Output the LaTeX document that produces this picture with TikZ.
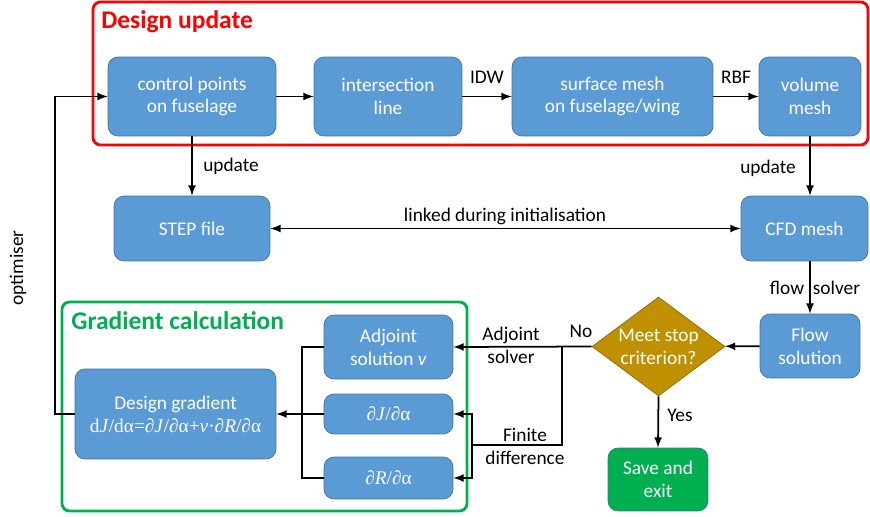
\documentclass[tikz,border=0pt]{standalone}
\usepackage{fontspec}
\setmainfont{Carlito}
\newfontfamily\serifmath{Liberation Serif}
\usetikzlibrary{shapes.geometric}

\definecolor{boxblue}{HTML}{5B9BD5}
\definecolor{boxedge}{HTML}{41719C}
\definecolor{gold}{HTML}{BF9000}
\definecolor{savegreen}{HTML}{00B050}

\tikzset{
  block/.style={rectangle, rounded corners=0.2cm, fill=boxblue, draw=boxedge, line width=0.4pt,
    text=white, align=center, inner sep=0pt, font=\fontsize{11}{13}\selectfont, minimum height=1.58cm},
  decision/.style={diamond, fill=gold, draw=gold!75!black, line width=0.4pt, inner sep=0pt},
  frame/.style={rounded corners=0.15cm, line width=1.6pt},
  titlefont/.style={font=\fontsize{14.5}{17}\selectfont\bfseries, inner sep=0pt},
  lbl/.style={font=\fontsize{11}{13}\selectfont, align=center},
  conn/.style={->, line width=1pt}
}

\begin{document}
\begin{tikzpicture}[x=0.02cm, y=-0.02cm, >=latex]
        \useasboundingbox (0,0) rectangle (870,517);
        % frames
        \draw[frame, red] (93,2) rectangle (868,145);
        \node[titlefont, red, anchor=base west] (dutitle) at (101,29) {Design update};
        \draw[frame, savegreen] (62,302) rectangle (467,511);
        \node[titlefont, savegreen, anchor=base west] (gctitle) at (71,330) {Gradient calculation};
        % boxes
        \node[block, minimum width=3.36cm] (ctrl) at (192,96.5) {control points\\on fuselage};
        \node[block, minimum width=2.96cm] (inter) at (388,96.5) {intersection\\line};
        \node[block, minimum width=4.02cm] (surf) at (612.5,96.5) {surface mesh\\on fuselage/wing};
        \node[block, minimum width=2.04cm] (vol) at (810,96.5) {volume\\mesh};
        \node[block, minimum width=3.12cm, minimum height=1.3cm] (step) at (192,228.5) {STEP file};
        \node[block, minimum width=2.54cm, minimum height=1.3cm] (cfd) at (804.5,228.5) {CFD mesh};
        \node[block, minimum width=2cm, minimum height=1.28cm] (flowsol) at (810,346) {Flow\\solution};
        \node[decision, minimum width=2.66cm, minimum height=1.98cm,
              label={[lbl, text=white]center:Meet stop\\criterion?}] (stop) at (658.5,346.5) {};
        \node[block, fill=savegreen, minimum width=2cm, minimum height=1.26cm] (save) at (658,479.5) {Save and\\exit};
        \node[block, minimum width=2.58cm, minimum height=1.28cm] (adj) at (388.5,347) {Adjoint\\solution \textit{v}};
        \node[block, minimum width=2.58cm, minimum height=0.8cm] (djda) at (388.5,414) {\serifmath ∂\textit{J}/∂α};
        \node[block, minimum width=2.58cm, minimum height=0.84cm] (drda) at (388.5,478) {\serifmath ∂\textit{R}/∂α};
        \node[block, minimum width=4.02cm, minimum height=1.8cm] (grad) at (175.5,414)
              {Design gradient\\{\serifmath d\textit{J}/dα=∂\textit{J}/∂α+\textit{v}·∂\textit{R}/∂α}};
        % connectors
        \draw[conn] (ctrl) -- (inter);
        \draw[conn] (inter) -- (surf);
        \draw[conn] (surf) -- (vol);
        \draw[conn] (ctrl.south) -- (step.north);
        \draw[conn] (vol.south) -- (vol.south |- cfd.north);
        \draw[conn, <->] (step) -- (cfd);
        \draw[conn] (flowsol.north |- cfd.south) -- (flowsol.north);
        \draw[conn] (flowsol) -- (stop);
        \draw[conn] (stop.south) -- (save.north);
        \draw[conn] (stop.west) -- (adj.east);
        \coordinate (split) at (562,347);
        \coordinate (fork) at (472,445);
        \draw[line width=1pt] (split) |- (fork);
        \draw[conn] (fork) |- (djda.east);
        \draw[conn] (fork) |- (drda.east);
        \draw[line width=1pt] (adj.west) -- ++(-22,0) |- (drda.west);
        \draw[conn] (djda.west) -- (grad.east);
        \draw[conn] (grad.west) -- ++(-20,0) |- (ctrl.west);
        % labels
        \node[lbl] (idw) at (487,77) {IDW};
        \node[lbl] (rbf) at (736,77) {RBF};
        \node[lbl] (upd1) at (231,166) {update};
        \node[lbl] (upd2) at (768,168) {update};
        \node[lbl] (linked) at (505,216) {linked during initialisation};
        \node[lbl] (fsolv) at (815,288) {flow\hspace{5pt}solver};
        \node[lbl] (no) at (581,331) {No};
        \node[lbl] (adjsolv) at (511,345) {Adjoint\\solver};
        \node[lbl] (findiff) at (525,446) {Finite\\difference};
        \node[lbl] (yes) at (680,415) {Yes};
        \node[lbl, rotate=90] (opt) at (18,268) {optimiser};
\end{tikzpicture}
\end{document}
